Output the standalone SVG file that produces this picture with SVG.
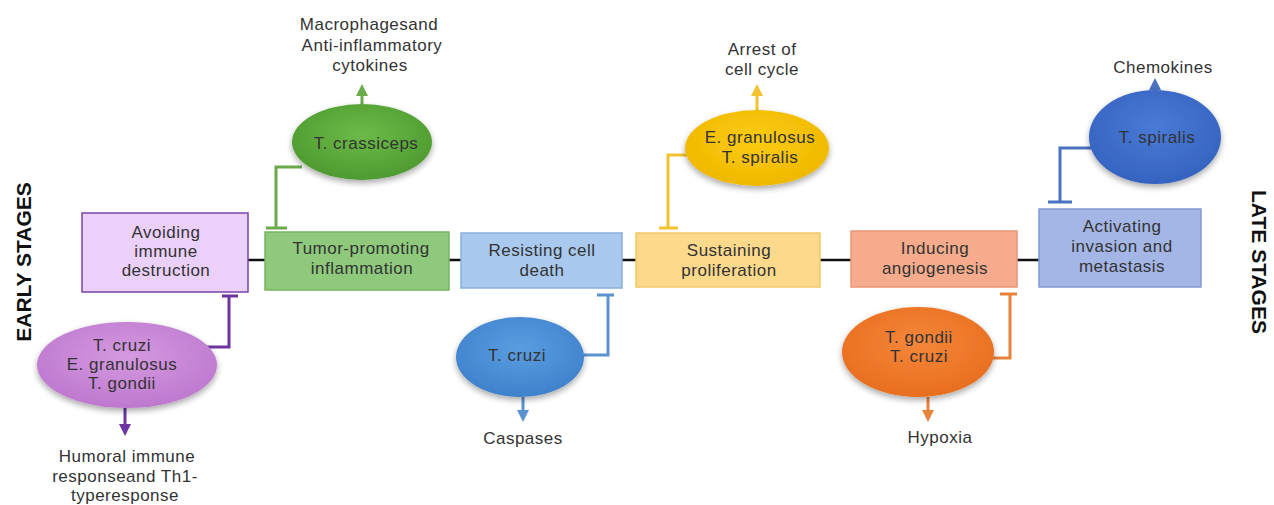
<svg xmlns="http://www.w3.org/2000/svg" width="1274" height="505" viewBox="0 0 1274 505">
<style>
text{font-family:"Liberation Sans",Arial,sans-serif;font-size:17px;letter-spacing:0.5px;fill:#333333;text-anchor:middle}
.stage{font-family:"Liberation Sans",Arial,sans-serif;font-weight:bold;font-size:21px;letter-spacing:0;fill:#111}
.box{stroke-width:1.5}
.link{stroke:#111;stroke-width:2.5;fill:none}
.conn{fill:none;stroke-width:3}
</style>
<defs>
<filter id="sh" x="-20%" y="-20%" width="140%" height="150%">
<feGaussianBlur in="SourceAlpha" stdDeviation="3"/>
<feOffset dx="0" dy="3" result="b"/>
<feComponentTransfer><feFuncA type="linear" slope="0.35"/></feComponentTransfer>
<feMerge><feMergeNode/><feMergeNode in="SourceGraphic"/></feMerge>
</filter>
<radialGradient id="gGreen" cx="50%" cy="40%" r="60%"><stop offset="0" stop-color="#6cbb48"/><stop offset="1" stop-color="#4e9a30"/></radialGradient>
<radialGradient id="gPurple" cx="50%" cy="40%" r="60%"><stop offset="0" stop-color="#d49ae0"/><stop offset="1" stop-color="#be78cf"/></radialGradient>
<radialGradient id="gBlue" cx="50%" cy="40%" r="60%"><stop offset="0" stop-color="#5a9de0"/><stop offset="1" stop-color="#3f82cc"/></radialGradient>
<radialGradient id="gYellow" cx="50%" cy="40%" r="60%"><stop offset="0" stop-color="#fccc10"/><stop offset="1" stop-color="#efb800"/></radialGradient>
<radialGradient id="gOrange" cx="50%" cy="40%" r="60%"><stop offset="0" stop-color="#f5873a"/><stop offset="1" stop-color="#e86e1e"/></radialGradient>
<radialGradient id="gDBlue" cx="50%" cy="40%" r="60%"><stop offset="0" stop-color="#4a7ad6"/><stop offset="1" stop-color="#3563c0"/></radialGradient>
<marker id="aGreen" viewBox="0 0 10 10" refX="5" refY="5" markerWidth="4" markerHeight="4" orient="auto"><path d="M0,0L10,5L0,10z" fill="#6aaa4a"/></marker>
<marker id="aPurple" viewBox="0 0 10 10" refX="5" refY="5" markerWidth="4" markerHeight="4" orient="auto"><path d="M0,0L10,5L0,10z" fill="#6e35a0"/></marker>
<marker id="aBlue" viewBox="0 0 10 10" refX="5" refY="5" markerWidth="4" markerHeight="4" orient="auto"><path d="M0,0L10,5L0,10z" fill="#5b93d0"/></marker>
<marker id="aYellow" viewBox="0 0 10 10" refX="5" refY="5" markerWidth="4" markerHeight="4" orient="auto"><path d="M0,0L10,5L0,10z" fill="#f2c230"/></marker>
<marker id="aOrange" viewBox="0 0 10 10" refX="5" refY="5" markerWidth="4" markerHeight="4" orient="auto"><path d="M0,0L10,5L0,10z" fill="#e8843a"/></marker>
<marker id="aDBlue" viewBox="0 0 10 10" refX="5" refY="5" markerWidth="4" markerHeight="4" orient="auto"><path d="M0,0L10,5L0,10z" fill="#4a72c0"/></marker>
</defs>
<rect width="1274" height="505" fill="#ffffff"/>

<g id="connectors">
<path class="link" d="M248,260H265M449,260H461M622,260H636M820,260H851M1017,260H1039"/>
<path class="conn" stroke="#6aaa4a" d="M302,167H276V228M266,228H287"/>
<path class="conn" stroke="#6aaa4a" d="M362,104V90" marker-end="url(#aGreen)"/>
<path class="conn" stroke="#6e35a0" d="M205,347H229V296M222,296H238"/>
<path class="conn" stroke="#6e35a0" d="M125,408V430" marker-end="url(#aPurple)"/>
<path class="conn" stroke="#5b93d0" d="M583,355H608V295M597,295H614"/>
<path class="conn" stroke="#5b93d0" d="M523,397V416" marker-end="url(#aBlue)"/>
<path class="conn" stroke="#f2c230" d="M692,155H668V228M659,228H678"/>
<path class="conn" stroke="#f2c230" d="M757,110V90" marker-end="url(#aYellow)"/>
<path class="conn" stroke="#e8843a" d="M992,358H1010V294M1000,294H1017"/>
<path class="conn" stroke="#e8843a" d="M928,397V416" marker-end="url(#aOrange)"/>
<path class="conn" stroke="#4a72c0" d="M1093,148H1060V202M1048,202H1072"/>
<path class="conn" stroke="#4a72c0" d="M1155,91V84" marker-end="url(#aDBlue)"/>
</g>

<g id="stage-early"><text class="stage" transform="translate(31,262) rotate(-90)">EARLY STAGES</text></g>
<g id="stage-late"><text class="stage" transform="translate(1252,262) rotate(90)">LATE STAGES</text></g>

<g id="avoiding">
<rect class="box" x="82" y="213" width="166" height="79" fill="#ebd0fa" stroke="#7a45a8"/>
<text x="166" y="238">Avoiding</text><text x="166" y="257">immune</text><text x="166" y="276">destruction</text>
</g>
<g id="tumor">
<rect class="box" x="265" y="232" width="184" height="58" fill="#8ec97c" stroke="#74b462"/>
<text x="361" y="254">Tumor-promoting</text><text x="362" y="274">inflammation</text>
</g>
<g id="resisting">
<rect class="box" x="461" y="233" width="161" height="55" fill="#a9c9ee" stroke="#88b0de"/>
<text x="542" y="256">Resisting cell</text><text x="542" y="276">death</text>
</g>
<g id="sustaining">
<rect class="box" x="636" y="233" width="184" height="54" fill="#fdd98c" stroke="#f3c86a"/>
<text x="729" y="256">Sustaining</text><text x="729" y="276">proliferation</text>
</g>
<g id="inducing">
<rect class="box" x="851" y="231" width="166" height="56" fill="#f6ab8c" stroke="#eb9676"/>
<text x="935" y="254">Inducing</text><text x="935" y="274">angiogenesis</text>
</g>
<g id="activating">
<rect class="box" x="1039" y="209" width="162" height="78" fill="#a3b6e6" stroke="#7f99d2"/>
<text x="1122" y="232">Activating</text><text x="1122" y="252">invasion and</text><text x="1122" y="272">metastasis</text>
</g>

<g id="crassiceps">
<ellipse cx="362" cy="142" rx="70" ry="38" fill="url(#gGreen)" filter="url(#sh)"/>
<text x="366" y="149">T. crassiceps</text>
</g>
<g id="macrophages">
<text x="369" y="30">Macrophagesand</text><text x="372" y="51">Anti-inflammatory</text><text x="370" y="71">cytokines</text>
</g>
<g id="cruzi-group">
<ellipse cx="127" cy="365" rx="90" ry="43" fill="url(#gPurple)" filter="url(#sh)"/>
<text x="122" y="351">T. cruzi</text><text x="122" y="370">E. granulosus</text><text x="122" y="389">T. gondii</text>
</g>
<g id="humoral">
<text x="127" y="462">Humoral immune</text><text x="125" y="482">responseand Th1-</text><text x="125" y="501">typeresponse</text>
</g>
<g id="tcruzi">
<ellipse cx="520" cy="357" rx="64" ry="40" fill="url(#gBlue)" filter="url(#sh)"/>
<text x="517" y="361">T. cruzi</text>
</g>
<g id="caspases"><text x="523" y="444">Caspases</text></g>
<g id="granulosus-spiralis">
<ellipse cx="757" cy="148" rx="72" ry="38" fill="url(#gYellow)" filter="url(#sh)"/>
<text x="760" y="143">E. granulosus</text><text x="760" y="163">T. spiralis</text>
</g>
<g id="arrest"><text x="762" y="55">Arrest of</text><text x="762" y="75">cell cycle</text></g>
<g id="gondii-cruzi">
<ellipse cx="918" cy="352" rx="76" ry="45" fill="url(#gOrange)" filter="url(#sh)"/>
<text x="919" y="343">T. gondii</text><text x="919" y="362">T. cruzi</text>
</g>
<g id="hypoxia"><text x="940" y="443">Hypoxia</text></g>
<g id="spiralis">
<ellipse cx="1155" cy="137" rx="66" ry="47" fill="url(#gDBlue)" filter="url(#sh)"/>
<text x="1157" y="143">T. spiralis</text>
</g>
<g id="chemokines"><text x="1163" y="73">Chemokines</text></g>
</svg>
